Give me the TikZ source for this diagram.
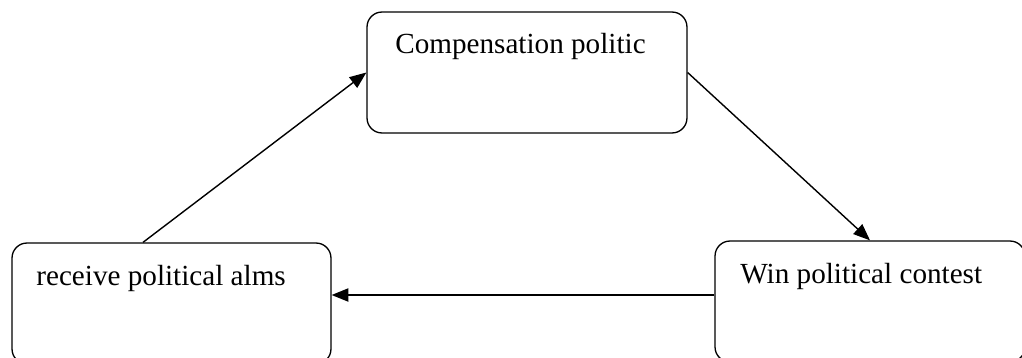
\documentclass[tikz,border=0pt]{standalone}
\usepackage{fontspec}
\setmainfont{Liberation Serif}
\usetikzlibrary{arrows.meta}
\begin{document}
\begin{tikzpicture}[x=0.02cm,y=-0.02cm]
                \tikzset{every node/.style={font=\fontsize{16.6}{20}\selectfont},
                    stagebox/.style={draw,line width=0.75pt,rounded corners=0.3cm,inner sep=0pt},
                    stagetext/.style={anchor=base west,inner sep=0pt},
                    flow/.style={line width=0.8pt,-{Triangle[length=9.5pt,width=7.5pt]}}}
                \useasboundingbox (0,0) rectangle (1022,358);
                \node[stagebox,minimum width=6.4cm,minimum height=2.42cm] (comp) at (527,72.5) {};
                \node[stagetext] (comptext) at (395,54) {Compensation politic};
                \node[stagebox,minimum width=6.38cm,minimum height=2.42cm] (alms) at (171.5,303.5) {};
                \node[stagetext] (almstext) at (36,285) {receive political alms};
                \node[stagebox,minimum width=6.2cm,minimum height=2.42cm] (win) at (870,301.5) {};
                \node[stagetext] (wintext) at (740,283) {Win political contest};
                \draw[flow] ([xshift=-0.57cm]alms.north) -- (comp.west);
                \draw[flow] (comp.east) -- (win.north);
                \coordinate (winleft) at ([yshift=0.13cm]win.west);
                \draw[flow] (winleft) -- (winleft -| alms.east);
            \end{tikzpicture}
\end{document}
